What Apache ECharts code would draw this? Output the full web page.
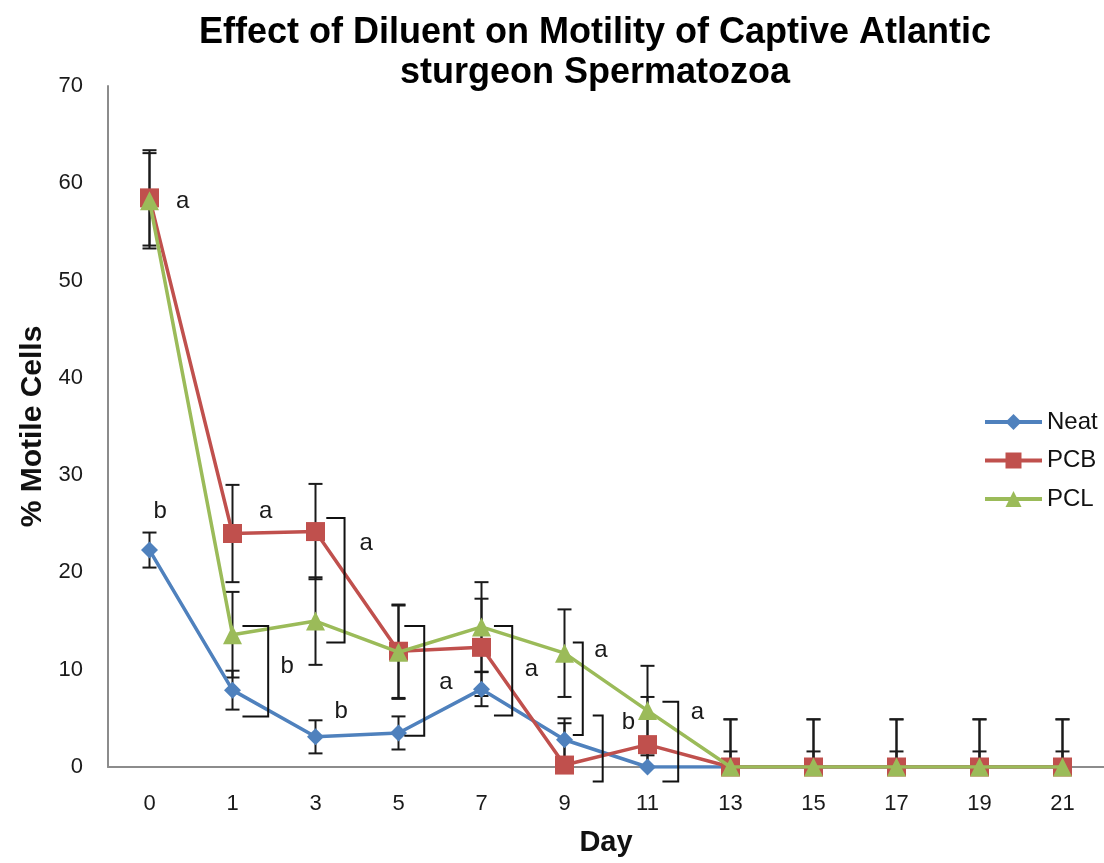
<!DOCTYPE html>
<html>
<head>
<meta charset="utf-8">
<script src="https://cdn.jsdelivr.net/npm/echarts@6/dist/echarts.min.js"></script>
<style>html,body{margin:0;padding:0;background:#fff;}#c{width:1104px;height:863px;}</style>
</head>
<body>
<div id="c"></div>
<script>
var days = ['0','1','3','5','7','9','11','13','15','17','19','21'];
var yTicks = [0,10,20,30,40,50,60,70];
var neat = [22.3, 7.9, 3.1, 3.5, 8.0, 2.8, 0, 0, 0, 0, 0, 0];
var pcb  = [58.5, 24.0, 24.2, 11.9, 12.3, 0.2, 2.3, 0, 0, 0, 0, 0];
var pcl  = [58.2, 13.6, 15.0, 11.8, 14.4, 11.7, 5.8, 0, 0, 0, 0, 0];
var neatErr = [1.8, 2.0, 1.7, 1.7, 1.75, 2.2, 1.6, 1.6, 1.6, 1.6, 1.6, 1.6];
var pcbErr  = [4.9, 5.0, 4.9, 4.8, 5.0, 4.3, 4.9, 4.9, 4.9, 4.9, 4.9, 4.9];
var pclErr  = [4.9, 4.4, 4.5, 4.8, 4.6, 4.5, 4.6, 4.9, 4.9, 4.9, 4.9, 4.9];
// significance letters: [x position in category units, y value]
var letterPos = [[0.40,58.1],[0.13,26.3],[1.40,26.3],[1.66,10.3],[2.61,23.0],[2.31,5.7],[3.57,8.7],[4.60,10.0],[5.44,12.0],[5.77,4.6],[6.60,5.6]];
var letterText = ['a','b','a','b','a','b','a','a','a','b','a'];
// brackets: [x start, x end, y top, y bottom] in category units / values
var brackets = [[1.12,1.43,14.5,5.2],[2.13,2.35,25.6,12.8],[3.07,3.31,14.5,3.2],[4.15,4.37,14.5,5.3],[5.10,5.22,12.8,3.3],[5.34,5.46,5.3,-1.5],[6.18,6.37,6.7,-1.5]];

var FONT = "'Liberation Sans', Arial, sans-serif";
var cNeat = '#4F81BD', cPcb = '#C0504D', cPcl = '#9BBB59';

function errData(vals, errs){
  return vals.map(function(v,i){ return [i, v - errs[i], v + errs[i]]; });
}
function errRender(params, api){
  var lo = api.coord([api.value(0), api.value(1)]);
  var hi = api.coord([api.value(0), api.value(2)]);
  var w = 7;
  var st = {stroke:'#1a1a1a', lineWidth:2};
  return {type:'group', children:[
    {type:'line', shape:{x1:lo[0],y1:lo[1],x2:hi[0],y2:hi[1]}, style:st},
    {type:'line', shape:{x1:lo[0]-w,y1:lo[1],x2:lo[0]+w,y2:lo[1]}, style:st},
    {type:'line', shape:{x1:hi[0]-w,y1:hi[1],x2:hi[0]+w,y2:hi[1]}, style:st}
  ]};
}
function errSeries(vals, errs){
  return {type:'custom', xAxisIndex:0, yAxisIndex:0, data:errData(vals, errs), renderItem:errRender, clip:true, z:1, silent:true, tooltip:{show:false}};
}

var chart = echarts.init(document.getElementById('c'), null, {renderer:'canvas'});
var option = {
  animation:false,
  backgroundColor:'#fff',
  title:{
    text:'Effect of Diluent on Motility of Captive Atlantic\nsturgeon Spermatozoa',
    left:590, top:8, textAlign:'center',
    textStyle:{fontFamily:FONT, fontSize:36, fontWeight:'bold', color:'#000', lineHeight:40}
  },
  legend:{
    orient:'vertical', left:978, top:405, itemWidth:57, itemHeight:20, itemGap:14.5,
    data:['Neat','PCB','PCL'],
    lineStyle:{width:4},
    textStyle:{fontFamily:FONT, fontSize:24, color:'#111'}
  },
  grid:{left:108, top:86, right:0, bottom:96, containLabel:false},
  xAxis:[{
    type:'category', data:days, boundaryGap:true,
    name:'Day', nameLocation:'middle', nameGap:61,
    nameTextStyle:{fontFamily:FONT, fontSize:29, fontWeight:'bold', color:'#111'},
    axisLine:{lineStyle:{color:'#8c8c8c', width:2}},
    axisTick:{show:false},
    axisLabel:{fontFamily:FONT, fontSize:22, color:'#1a1a1a', margin:26},
    splitLine:{show:false}
  },{
    type:'value', min:-0.5, max:11.5, show:false
  }],
  yAxis:{
    type:'value', min:yTicks[0], max:yTicks[yTicks.length-1], interval:10,
    name:'% Motile Cells', nameLocation:'middle', nameGap:60, nameRotate:90,
    nameTextStyle:{fontFamily:FONT, fontSize:30, fontWeight:'bold', color:'#111'},
    axisLine:{show:true, onZero:false, lineStyle:{color:'#8c8c8c', width:2}},
    axisTick:{show:false},
    axisLabel:{fontFamily:FONT, fontSize:22, color:'#1a1a1a', margin:25},
    splitLine:{show:false}
  },
  series:[
    errSeries(neat, neatErr),
    errSeries(pcb, pcbErr),
    errSeries(pcl, pclErr),
    {name:'Neat', type:'line', data:neat, symbol:'diamond', symbolSize:17, z:3,
      itemStyle:{color:cNeat}, lineStyle:{color:cNeat, width:3.5}},
    {name:'PCB', type:'line', data:pcb, symbol:'rect', symbolSize:19, z:3,
      itemStyle:{color:cPcb}, lineStyle:{color:cPcb, width:3.5}},
    {name:'PCL', type:'line', data:pcl, symbol:'triangle', symbolSize:19, z:4,
      itemStyle:{color:cPcl}, lineStyle:{color:cPcl, width:3.5}},
    {type:'custom', xAxisIndex:1, yAxisIndex:0, data:brackets, clip:false, z:5, silent:true,
      renderItem:function(params, api){
        var a = api.coord([api.value(0), api.value(2)]);
        var b = api.coord([api.value(1), api.value(2)]);
        var c = api.coord([api.value(1), api.value(3)]);
        var d = api.coord([api.value(0), api.value(3)]);
        return {type:'polyline', shape:{points:[a,b,c,d]}, style:{stroke:'#111', lineWidth:2, fill:null}};
      }},
    {type:'custom', xAxisIndex:1, yAxisIndex:0, data:letterPos, clip:false, z:6, silent:true,
      renderItem:function(params, api){
        var p = api.coord([api.value(0), api.value(1)]);
        return {type:'text', x:p[0], y:p[1], style:{text:letterText[params.dataIndex], fontFamily:FONT, fontSize:24, fill:'#1a1a1a', align:'center', verticalAlign:'middle'}};
      }}
  ]
};
chart.setOption(option);
</script>
</body>
</html>
